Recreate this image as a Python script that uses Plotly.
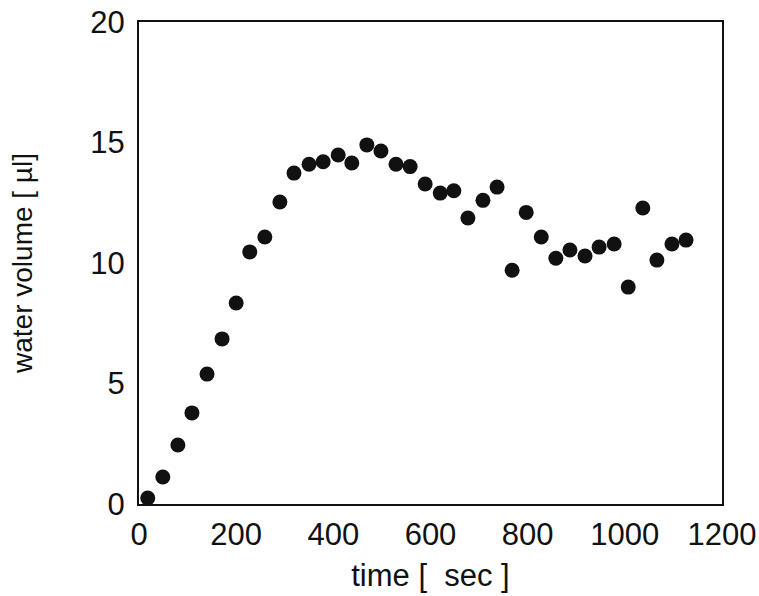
import plotly.graph_objects as go

time_sec = [18, 49, 80, 109, 140, 171, 200, 228, 259, 290, 319, 350, 379, 410, 438,
            469, 498, 529, 558, 589, 620, 648, 677, 708, 737, 768, 797, 828, 858, 887,
            918, 947, 978, 1007, 1037, 1066, 1097, 1126]
water_ul = [0.25, 1.12, 2.45, 3.78, 5.39, 6.85, 8.34, 10.46, 11.08, 12.53, 13.73, 14.1,
            14.2, 14.48, 14.15, 14.9, 14.65, 14.1, 14.0, 13.28, 12.9, 13.0, 11.87, 12.6,
            13.15, 9.7, 12.1, 11.08, 10.2, 10.54, 10.29, 10.66, 10.79, 9.0, 12.28, 10.12,
            10.79, 10.95]

x_ticks = [0, 200, 400, 600, 800, 1000, 1200]
y_ticks = [0, 5, 10, 15, 20]

fig = go.Figure(go.Scatter(
    x=time_sec, y=water_ul, mode="markers",
    marker=dict(size=15, color="#111111"),
    cliponaxis=False,
))

font = dict(family="Liberation Sans, Arial, Helvetica, sans-serif", color="#111111")

fig.update_layout(
    width=759, height=596,
    margin=dict(l=139, r=37, t=22, b=92),
    paper_bgcolor="white", plot_bgcolor="white",
    showlegend=False,
    font=font,
)
fig.update_xaxes(
    range=[0, 1200], tickvals=x_ticks, ticktext=[str(v) for v in x_ticks],
    showgrid=False, zeroline=False, showline=True, linecolor="#111111", linewidth=2,
    mirror=True, ticks="", tickfont=dict(size=31, **font), ticklabelstandoff=2,
    ticklabeloverflow="allow", automargin=False,
    title=dict(text="time [\u00a0\u00a0sec\u00a0]", font=dict(size=31, **font), standoff=13),
)
fig.update_yaxes(
    range=[0, 20], tickvals=y_ticks, ticktext=[str(v) for v in y_ticks],
    showgrid=False, zeroline=False, showline=True, linecolor="#111111", linewidth=2,
    mirror=True, ticks="", tickfont=dict(size=31, **font), ticklabelstandoff=6,
    ticklabeloverflow="allow", automargin=False,
    title=dict(text="water volume [ µl]", font=dict(size=28, **font), standoff=50),
)

fig.write_html("out.html", config={"displayModeBar": False},
               post_script="document.body.style.margin='0';")
